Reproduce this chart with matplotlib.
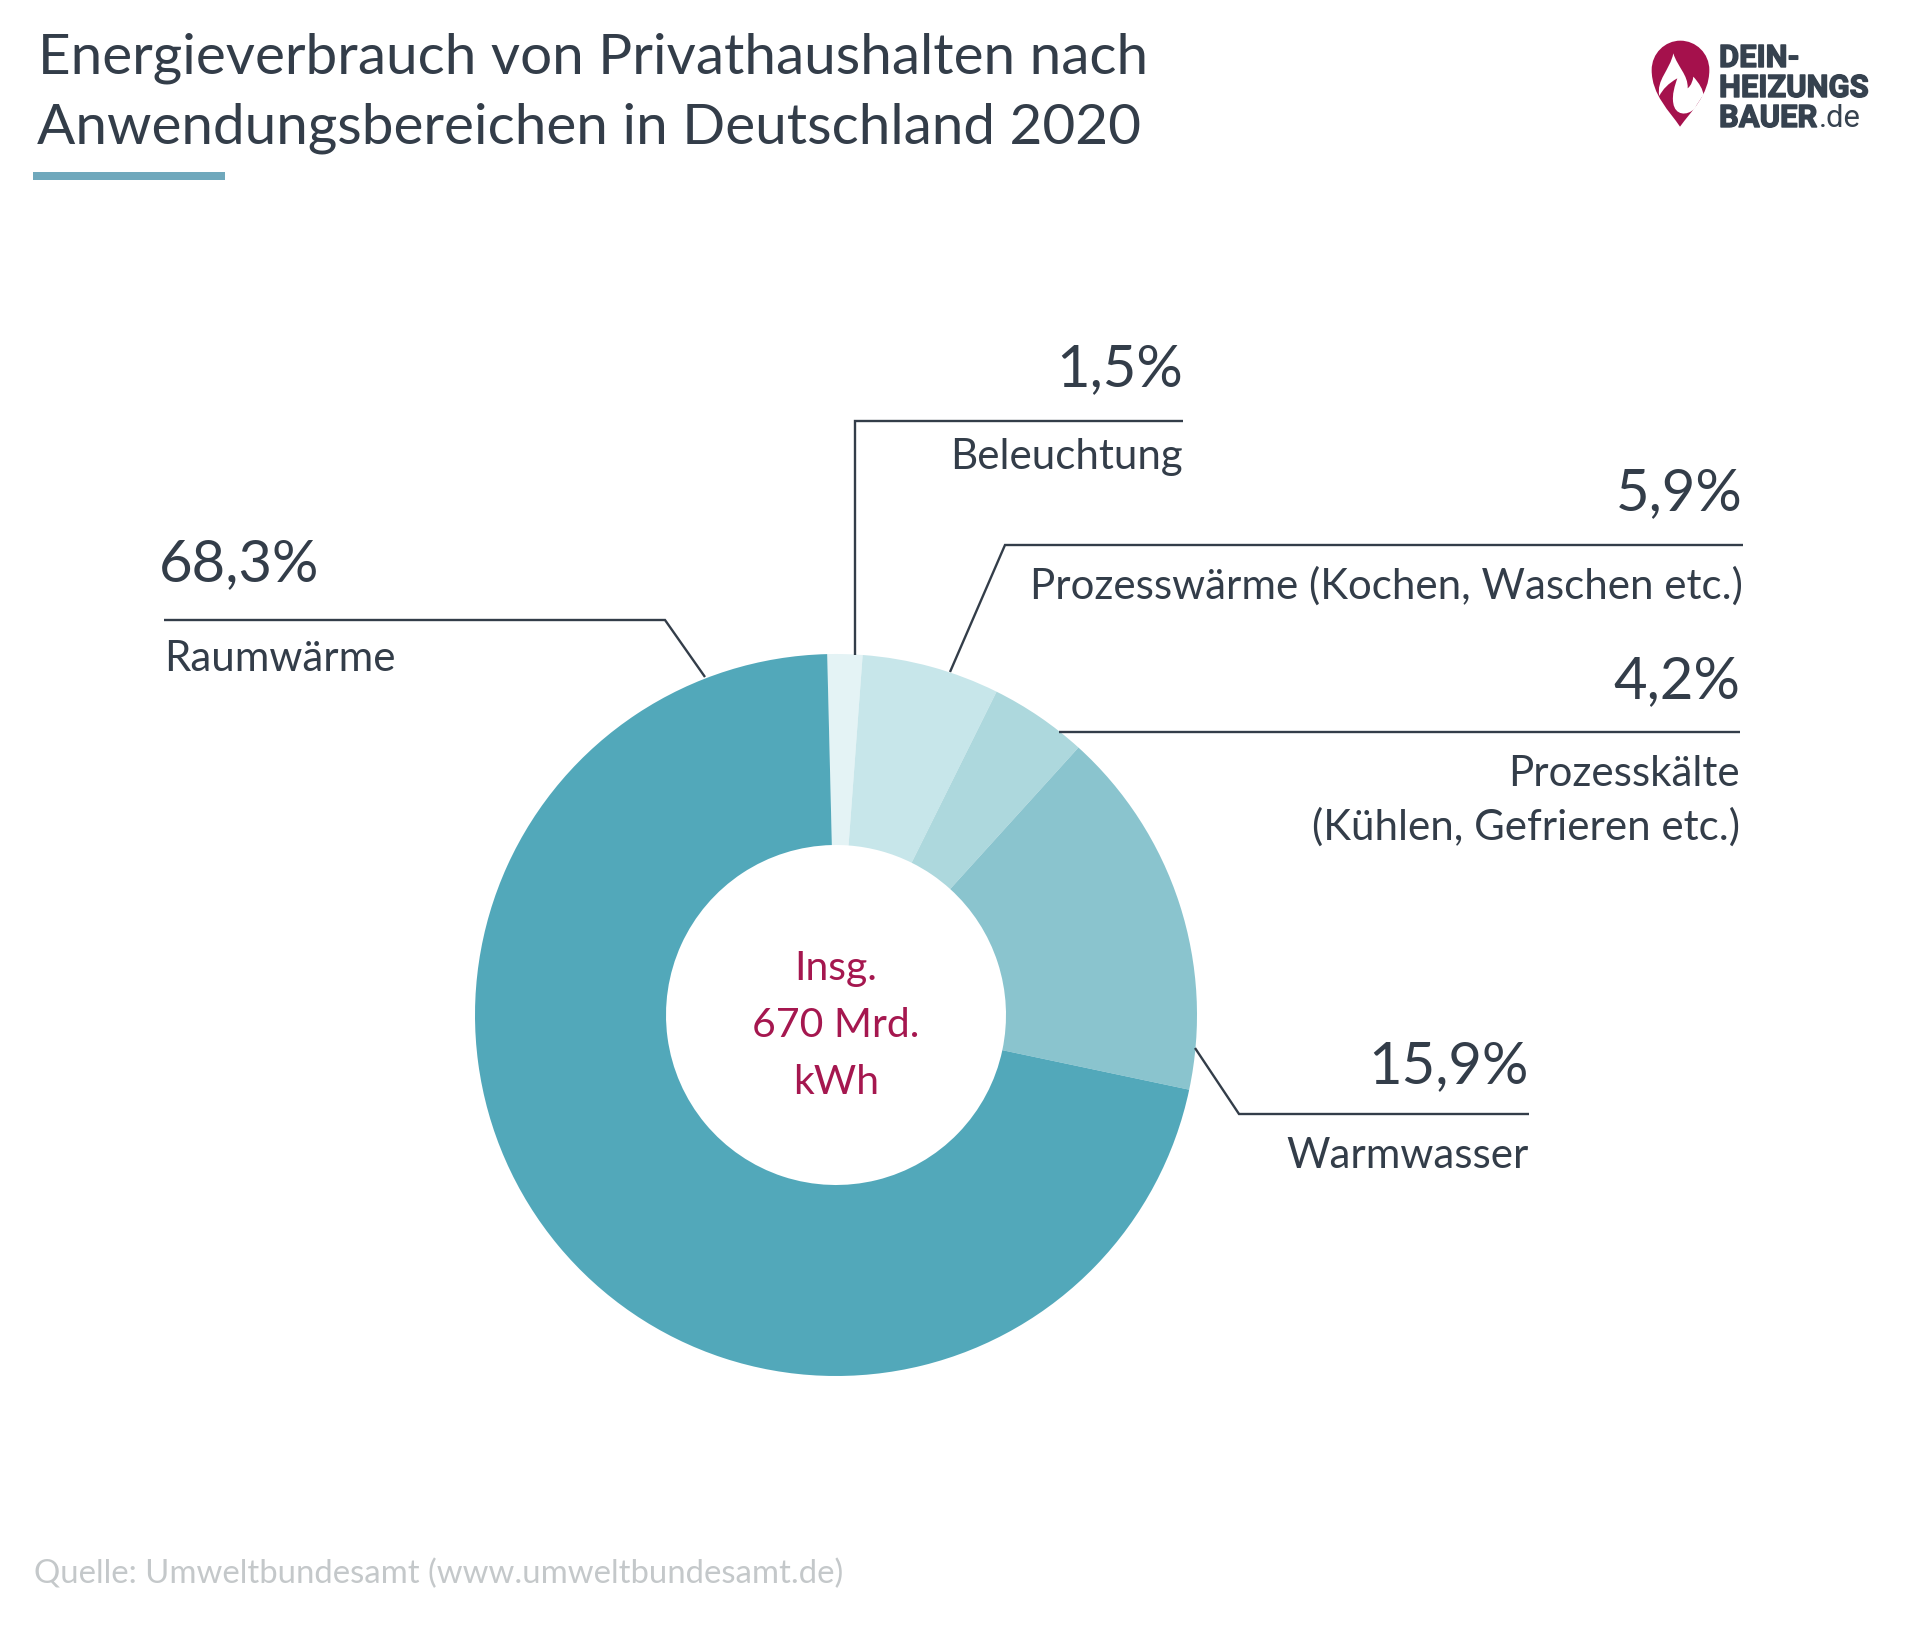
import matplotlib
matplotlib.use("Agg")
import matplotlib.pyplot as plt
from matplotlib.patches import PathPatch, Rectangle
from matplotlib.path import Path
import matplotlib.patheffects as pe
from matplotlib import font_manager as fm

W, H = 1920, 1625
plt.rcParams['font.family'] = ['Lato', 'DejaVu Sans']

title_lines = ["Energieverbrauch von Privathaushalten nach", "Anwendungsbereichen in Deutschland 2020"]
categories = ["Beleuchtung", "Prozesswärme (Kochen, Waschen etc.)", "Prozesskälte\n(Kühlen, Gefrieren etc.)", "Warmwasser", "Raumwärme"]
values = [1.5, 5.9, 4.2, 15.9, 68.3]
value_labels = ["1,5%", "5,9%", "4,2%", "15,9%", "68,3%"]
colors = ["#e4f3f5", "#c7e6ea", "#add8dd", "#8ac4ce", "#52a8ba"]
center_lines = ["Insg.", "670 Mrd.", "kWh"]
source = "Quelle: Umweltbundesamt (www.umweltbundesamt.de)"

DARK = "#333d49"
RED = "#a5174f"

fig = plt.figure(figsize=(W/100, H/100), dpi=100, facecolor="white")

# donut
cx, cy, r, ri = 836, 1015, 361, 170
axp = fig.add_axes([(cx-r)/W, 1-(cy+r)/H, 2*r/W, 2*r/H])
axp.pie(values, colors=colors, startangle=91.4, counterclock=False, radius=1,
        wedgeprops=dict(width=1-ri/r, linewidth=0))
axp.set_xlim(-1, 1); axp.set_ylim(-1, 1); axp.axis("off")

# overlay in pixel coordinates
ax = fig.add_axes([0, 0, 1, 1], zorder=3)
ax.set_xlim(0, W); ax.set_ylim(H, 0); ax.axis("off"); ax.patch.set_alpha(0)

def T(x, y, s, size, color=DARK, ha="left", **kw):
    return ax.text(x, y, s, fontsize=size*0.72, color=color, ha=ha, va="baseline", **kw)

# title
T(38, 73, title_lines[0], 56.7)
T(37, 143, title_lines[1], 56.7)
ax.add_patch(Rectangle((33, 172), 192, 7.5, color="#6fa8bc", lw=0))

# leaders
leaders = [
    [(855, 655), (855, 421), (1183, 421)],
    [(950, 672), (1005, 545), (1743, 545)],
    [(1059, 732), (1740, 732)],
    [(1195, 1048), (1239, 1114), (1529, 1114)],
    [(705, 677), (665, 620), (164, 620)],
]
for pts in leaders:
    ax.plot(*zip(*pts), color=DARK, lw=1.7, solid_capstyle="butt", solid_joinstyle="miter")

PCT, LAB = 58, 42
T(1183, 386, value_labels[0], PCT, ha="right")
T(1183, 469, categories[0], LAB, ha="right")
T(1743, 510, value_labels[1], PCT, ha="right")
T(1743, 599, categories[1], LAB, ha="right")
T(1740, 698, value_labels[2], PCT, ha="right")
a, b = categories[2].split("\n")
T(1740, 786, a, LAB, ha="right")
T(1740, 840, b, LAB, ha="right")
T(1529, 1083, value_labels[3], PCT, ha="right")
T(1529, 1168, categories[3], LAB, ha="right")
T(159, 581, value_labels[4], PCT)
T(164, 671, categories[4], LAB)

for y, s in zip([980, 1037, 1094], center_lines):
    T(836, y, s, 41, color=RED, ha="center")

T(34, 1583, source, 32.9, color="#c4c8ca")

# logo: outline traced in the crop's coordinates (crop origin 1620,20, scale 3)
def z(p):
    return (1620 + p[0]/3, 20 + p[1]/3)

LOGO = "#a5114c"
pin_pts = [(180,320),(150,275),(95,225),(95,150),(95,100),(135,62),(181,62),
           (228,62),(268,100),(268,150),(268,225),(212,275),(180,320),(180,320)]
pin = Path([z(p) for p in pin_pts], [1]+[4]*12+[79])
ax.add_patch(PathPatch(pin, fc=LOGO, lw=0))

flame_pts = [(118,228),
             (108,180),(150,150),(160,100),
             (172,140),(205,165),(203,205),
             (215,195),(218,182),(220,170),
             (238,190),(250,210),(250,225),
             (240,240),(232,250),(225,265),
             (200,290),(165,285),(160,250),
             (155,225),(165,195),(172,175),
             (145,190),(128,208),(118,228),
             (118,228)]
flame = Path([z(p) for p in flame_pts], [1]+[4]*24+[79])
ax.add_patch(PathPatch(flame, fc="white", lw=0))

LF = ['Liberation Sans Narrow', 'Roboto']
have_narrow = any(f.name == 'Liberation Sans Narrow' for f in fm.fontManager.ttflist)
LC = "#36424f"
LS = 35 if have_narrow else 31
stroke = [pe.withStroke(linewidth=1.0, foreground=LC)]
T(1719, 67, "DEIN-", LS, color=LC, family=LF, weight="bold", path_effects=stroke)
T(1719, 97, "HEIZUNGS", LS, color=LC, family=LF, weight="bold", path_effects=stroke)
t = T(1719, 127, "BAUER", LS, color=LC, family=LF, weight="bold", path_effects=stroke)
fig.canvas.draw()
e = t.get_window_extent()
T(e.x1 + 1, 127, ".de", LS, color=LC, family=LF)

fig.savefig("out.png", dpi=100)
